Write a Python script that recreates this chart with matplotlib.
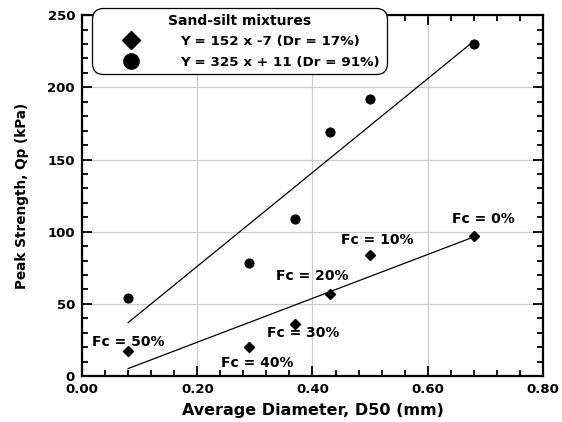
import numpy as np
import matplotlib
matplotlib.use('Agg')
import matplotlib.pyplot as plt
from matplotlib.lines import Line2D
from matplotlib.ticker import MultipleLocator, FormatStrFormatter

plt.rcParams['font.family'] = 'DejaVu Sans'
plt.rcParams['font.weight'] = 'bold'

# Data
d50 = [0.08, 0.29, 0.37, 0.43, 0.50, 0.68]
qp_dr17 = [17, 20, 36, 57, 84, 97]
qp_dr91 = [54, 78, 109, 169, 192, 230]
fc_labels = ['Fc = 50%', 'Fc = 40%', 'Fc = 30%', 'Fc = 20%', 'Fc = 10%', 'Fc = 0%']
fc_label_x = [0.080, 0.304, 0.384, 0.400, 0.512, 0.696]
fc_label_y = [23.5, 9, 30, 69, 94, 109]

# linear fits given in the legend
fit_dr17 = (152, -7)
fit_dr91 = (325, 11)
fit_range = [0.08, 0.68]

fig = plt.figure(figsize=(5.62, 4.22), dpi=100)
ax = fig.add_axes([0.146, 0.109, 0.820, 0.855])

ax.grid(True, color='#cccccc', linewidth=0.9, zorder=0)
ax.set_axisbelow(True)

xf = np.array(fit_range)
ax.plot(xf, fit_dr91[0] * xf + fit_dr91[1], color='black', linewidth=0.9, zorder=2)
ax.plot(xf, fit_dr17[0] * xf + fit_dr17[1], color='black', linewidth=0.9, zorder=2)

ax.plot(d50, qp_dr91, 'o', color='black', markersize=6.3, zorder=3)
ax.plot(d50, qp_dr17, 'D', color='black', markersize=5.5, zorder=3)

for lab, x, y in zip(fc_labels, fc_label_x, fc_label_y):
    ax.text(x, y, lab, ha='center', va='center', fontsize=10, fontweight='bold')

ax.set_xlim(0, 0.8)
ax.set_ylim(0, 250)
ax.xaxis.set_major_locator(MultipleLocator(0.2))
ax.xaxis.set_minor_locator(MultipleLocator(0.04))
ax.xaxis.set_major_formatter(FormatStrFormatter('%.2f'))
ax.yaxis.set_major_locator(MultipleLocator(50))
ax.yaxis.set_minor_locator(MultipleLocator(10))

ax.tick_params(which='both', direction='in', top=True, right=True, width=1.3)
ax.tick_params(which='major', length=7, labelsize=9.5, pad=5)
ax.tick_params(which='minor', length=4)
for lbl in ax.get_xticklabels() + ax.get_yticklabels():
    lbl.set_fontweight('bold')
for s in ax.spines.values():
    s.set_linewidth(1.6)

ax.set_xlabel('Average Diameter, D50 (mm)', fontsize=11.5, fontweight='bold', labelpad=5)
ax.set_ylabel('Peak Strength, Qp (kPa)', fontsize=9.8, fontweight='bold', labelpad=13)

handles = [
    Line2D([], [], marker='D', color='black', linestyle='none', markersize=9),
    Line2D([], [], marker='o', color='black', linestyle='none', markersize=11),
]
leg = ax.legend(handles, ['Y = 152 x -7 (Dr = 17%)', 'Y = 325 x + 11 (Dr = 91%)'],
                title='Sand-silt mixtures', loc='upper left', mode='expand',
                bbox_to_anchor=(0.022, 1.019, 0.640, 0.0), borderaxespad=0,
                fancybox=True, framealpha=1, edgecolor='black',
                prop={'size': 9.7, 'weight': 'bold'},
                title_fontproperties={'size': 10, 'weight': 'bold'},
                handletextpad=1.1, handlelength=5.0, borderpad=0.4, labelspacing=0.55)
leg.get_frame().set_linewidth(0.9)
leg.get_frame().set_boxstyle('round,pad=0,rounding_size=0.8')
leg.set_zorder(5)

fig.savefig('out.png', dpi=100)
